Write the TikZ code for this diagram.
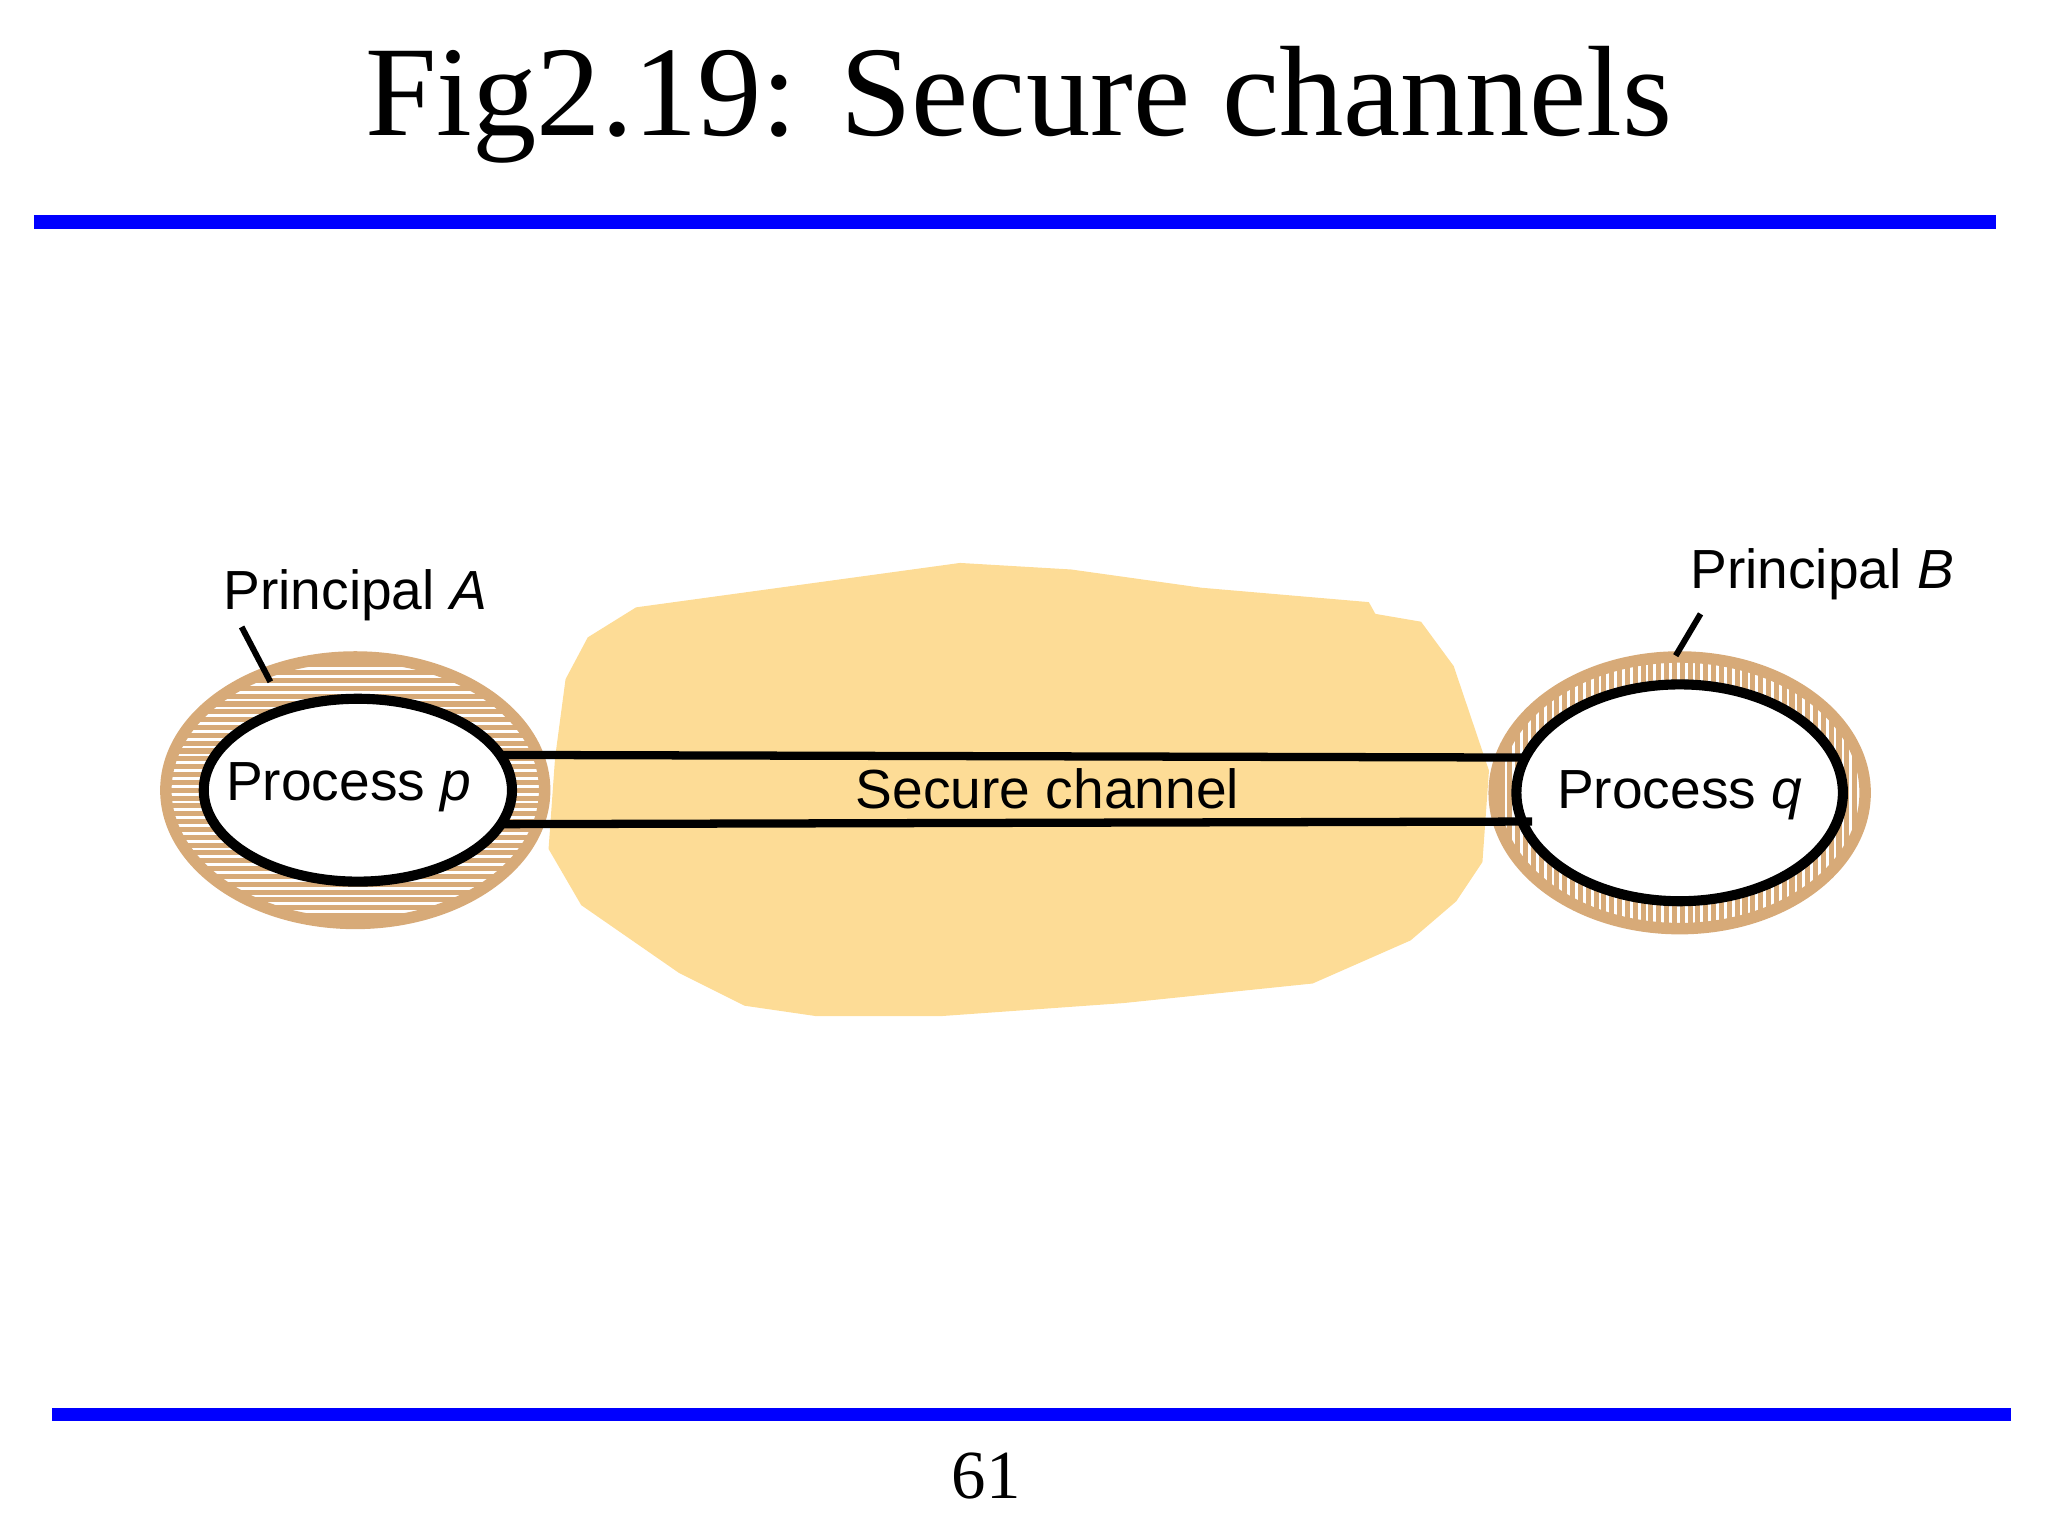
\documentclass[tikz,border=0pt]{standalone}
\usepackage{fontspec}
\setmainfont{Liberation Serif}
\newfontfamily\sansf{Liberation Sans}
\usetikzlibrary{shapes.geometric}
\definecolor{slideblue}{RGB}{0,0,255}
\definecolor{blob}{RGB}{253,220,150}
\definecolor{tan}{RGB}{215,170,120}
\tikzset{
  proc/.style={draw=black,line width=2.2pt,fill=white},
  lbl/.style={font=\sansf\fontsize{12}{14}\selectfont},
  rule/.style={slideblue,line width=3pt},
  lead/.style={line width=1.3pt},
  hatch/.style={tan,line width=1.1pt}
}
\begin{document}
\begin{tikzpicture}[x=0.01cm,y=-0.01cm]
\useasboundingbox (0,0) rectangle (1568,1176);
% title and rules
\node[font=\fontsize{28}{33}\selectfont] (title) at (780,80) {Fig2.19: Secure channels};
\draw[rule] (26,170) -- (1528,170);
\draw[rule] (40,1083) -- (1540,1083);
\node[font=\fontsize{15}{18}\selectfont] (page) at (755,1130) {61};
% insecure network blob
\fill[blob] (487,465) -- (735,431) -- (820,436) -- (920,450) -- (1048,461) -- (1053,470)
  -- (1088,476) -- (1113,510) -- (1140,590) -- (1135,660) -- (1115,690) -- (1080,720)
  -- (1005,753) -- (860,768) -- (720,778) -- (625,778) -- (570,770) -- (520,745)
  -- (445,693) -- (420,650) -- (425,580) -- (433,520) -- (450,488) -- cycle;
% principal A (horizontal hatching)
\fill[white] (272,605) ellipse [x radius=145,y radius=102];
\begin{scope}
  \clip (272,605) ellipse [x radius=145,y radius=102];
  \foreach \y in {503,509,...,710} \draw[hatch] (120,\y) -- (420,\y);
\end{scope}
\draw[tan,line width=2.5pt] (272,605) ellipse [x radius=145,y radius=102];
% principal B (vertical hatching)
\fill[white] (1286,607) ellipse [x radius=142,y radius=104];
\begin{scope}
  \clip (1286,607) ellipse [x radius=142,y radius=104];
  \foreach \x in {1144,1150,...,1430} \draw[hatch] (\x,500) -- (\x,715);
\end{scope}
\draw[tan,line width=2.5pt] (1286,607) ellipse [x radius=142,y radius=104];
% processes
\draw[proc] (274,605) ellipse [x radius=118,y radius=70];
\draw[proc] (1286,607) ellipse [x radius=125,y radius=83];
\node[lbl] (p) at (267,603) {Process \textit{p}};
\node[lbl] (q) at (1286,609) {Process \textit{q}};
% secure channel
\coordinate (pt) at (385,578); \coordinate (qt) at (1170,580);
\coordinate (pb) at (385,631); \coordinate (qb) at (1173,629);
\draw[line width=1.8pt] (pt) -- (qt);
\draw[line width=1.8pt] (pb) -- (qb);
\node[lbl] (ch) at (802,604) {Secure channel};
% principal labels
\node[lbl] (la) at (272,456) {Principal \textit{A}};
\node[lbl] (lb) at (1395,440) {Principal \textit{B}};
\coordinate (a1) at (185,480); \coordinate (a2) at (207,522);
\coordinate (b1) at (1302,470); \coordinate (b2) at (1283,502);
\draw[lead] (a1) -- (a2);
\draw[lead] (b1) -- (b2);
\end{tikzpicture}
\end{document}
